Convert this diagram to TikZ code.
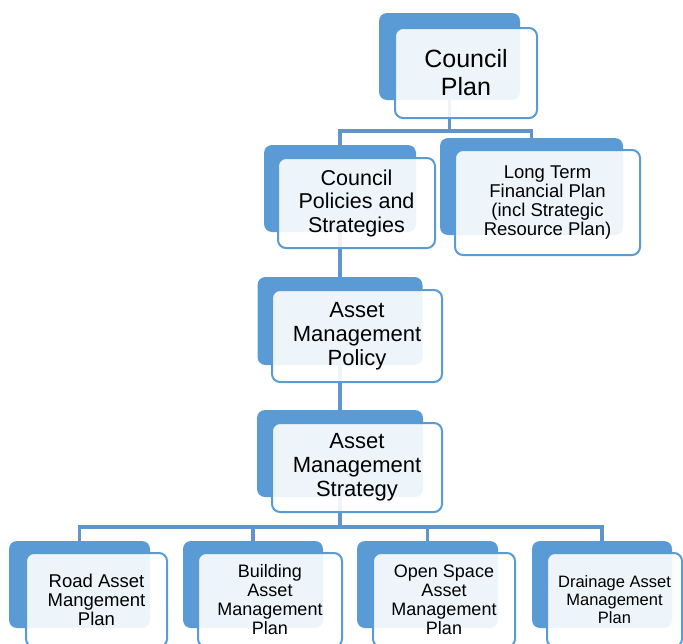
\documentclass[tikz,border=0pt]{standalone}
\usepackage{fontspec}
\setmainfont{Liberation Sans}
\usetikzlibrary{backgrounds}
\definecolor{tabblue}{RGB}{91,155,213}
\definecolor{linkblue}{RGB}{96,148,205}

\begin{document}
\begin{tikzpicture}[x=1pt,y=-1pt,
  tab/.style={rectangle,rounded corners=8pt,fill=tabblue,inner sep=0pt},
  card/.style={rectangle,rounded corners=8pt,draw=tabblue,line width=2pt,fill=white,fill opacity=0.9,text opacity=1,inner sep=0pt,align=center},
  link/.style={draw=linkblue,line width=3.5pt}]
      \useasboundingbox (0,0) rectangle (683,643);

      \node[tab,minimum width=141pt,minimum height=87pt] (planbg) at (449.5,56.5) {};
      \node[card,minimum width=142pt,minimum height=90pt,font=\fontsize{25}{28}\selectfont] (plan) at (466,73) {
        Council\\Plan
      };

      \node[tab,minimum width=152pt,minimum height=87pt] (policiesbg) at (340,188.5) {};
      \node[card,minimum width=157pt,minimum height=90pt,font=\fontsize{21.5}{23.5}\selectfont] (policies) at (356.5,203) {
        Council\\Policies and\\Strategies
      };

      \node[tab,minimum width=183pt,minimum height=97pt] (financebg) at (531.5,186.5) {};
      \node[card,minimum width=185pt,minimum height=105pt,font=\fontsize{18.5}{19}\selectfont] (finance) at (547.5,202.5) {
        Long Term\\Financial Plan\\(incl Strategic\\Resource Plan)
      };

      \node[tab,minimum width=165pt,minimum height=88pt] (policybg) at (340,321) {};
      \node[card,minimum width=170pt,minimum height=92pt,font=\fontsize{22}{24}\selectfont] (policy) at (357,336) {
        Asset\\Management\\Policy
      };

      \node[tab,minimum width=166pt,minimum height=87pt] (strategybg) at (340,453.5) {};
      \node[card,minimum width=170pt,minimum height=89pt,font=\fontsize{22}{24}\selectfont] (strategy) at (357,467.5) {
        Asset\\Management\\Strategy
      };

      \node[tab,minimum width=141pt,minimum height=87pt] (roadbg) at (79.5,584.5) {};
      \node[card,minimum width=141pt,minimum height=94pt,font=\fontsize{18.5}{19}\selectfont] (road) at (96.5,600) {
        Road Asset\\Mangement\\Plan
      };

      \node[tab,minimum width=140pt,minimum height=87pt] (buildingbg) at (253,584.5) {};
      \node[card,minimum width=144pt,minimum height=94pt,font=\fontsize{18}{19}\selectfont] (building) at (270,600) {
        Building\\Asset\\Management\\Plan
      };

      \node[tab,minimum width=141pt,minimum height=87pt] (openbg) at (427.5,584.5) {};
      \node[card,minimum width=142pt,minimum height=94pt,font=\fontsize{18}{19}\selectfont] (open) at (444,600) {
        Open Space\\Asset\\Management\\Plan
      };

      \node[tab,minimum width=140pt,minimum height=87pt] (drainbg) at (602,584.5) {};
      \node[card,minimum width=135pt,minimum height=94pt,font=\fontsize{16.5}{18}\selectfont] (drain) at (614.5,600) {
        Drainage Asset\\Management\\Plan
      };

      \coordinate (topbus) at (0,131);
      \coordinate (lowbus) at (0,527);

      \begin{pgfonlayer}{background}
        \draw[link] (planbg) -- (planbg |- topbus) -| (policiesbg);
        \draw[link] (planbg |- topbus) -| (financebg);
        \draw[link] (policiesbg) -- (policybg);
        \draw[link] (policybg) -- (strategybg);
        \draw[link] (strategybg) -- (strategybg |- lowbus) -| (roadbg);
        \draw[link] (strategybg |- lowbus) -| (buildingbg);
        \draw[link] (strategybg |- lowbus) -| (openbg);
        \draw[link] (strategybg |- lowbus) -| (drainbg);
      \end{pgfonlayer}
    \end{tikzpicture}
\end{document}
